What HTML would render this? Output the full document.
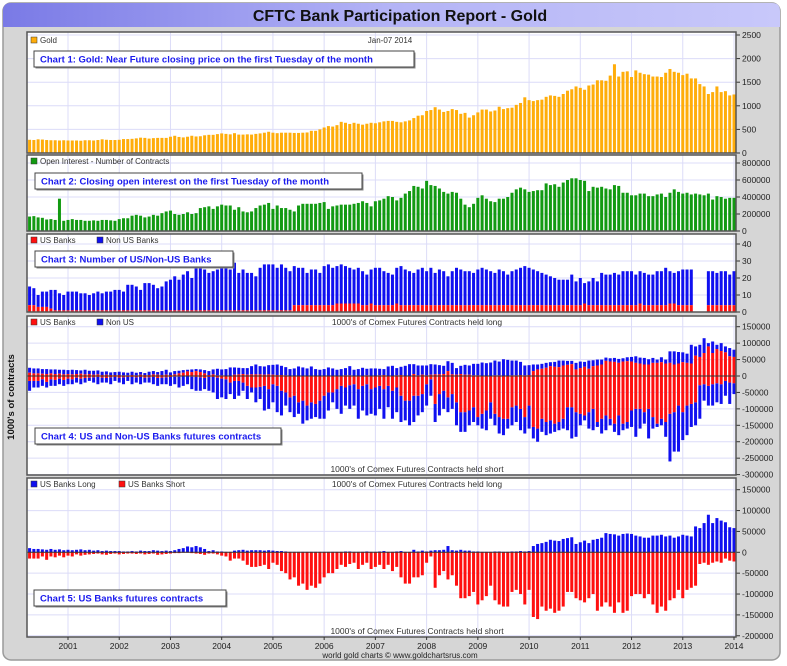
<!DOCTYPE html>
<html><head><meta charset="utf-8"><style>
html,body{margin:0;padding:0;background:#fff;width:787px;height:666px;overflow:hidden;font-family:"Liberation Sans",sans-serif}
</style></head><body>
<svg id="c" width="787" height="666" xmlns="http://www.w3.org/2000/svg" style="font-family:'Liberation Sans',sans-serif">
<defs>
<linearGradient id="tb" x1="0" x2="1" y1="0" y2="0"><stop offset="0" stop-color="#7a7ae6"/><stop offset="0.5" stop-color="#b4b4f6"/><stop offset="1" stop-color="#c8c8fa"/></linearGradient>
</defs>
<rect x="3" y="3" width="777" height="657" rx="8" fill="#d6d6d6" stroke="#9a9a9a" stroke-width="1.5"/>
<path d="M3,27 L3,11 Q3,3 11,3 L772,3 Q780,3 780,11 L780,27 Z" fill="url(#tb)"/>
<text x="400" y="21" text-anchor="middle" font-size="16" font-weight="bold" fill="#111">CFTC Bank Participation Report - Gold</text>
<text x="14" y="397" transform="rotate(-90 14 397)" text-anchor="middle" font-size="9.5" font-weight="bold" fill="#111">1000's of contracts</text>
<text x="400" y="658" text-anchor="middle" font-size="8" fill="#222">world gold charts © www.goldchartsrus.com</text>
<g id="g"></g>
</svg>
<script>
// ---- categories ----
const years=[2001,2002,2003,2004,2005,2006,2007,2008,2009,2010,2011,2012,2013,2014];
// monthly data from Apr 2000 to Jan 2014 (166 months)
const gold=[280,275,290,285,275,270,270,265,270,
265,265,265,260,270,270,265,275,290,280,275,275,
280,295,295,300,310,325,320,305,315,320,320,320,
345,365,340,330,345,365,350,355,375,385,385,400,
415,405,395,420,390,390,395,390,405,415,430,450,
430,420,430,430,430,425,425,430,435,470,470,500,
540,570,560,590,660,640,615,640,620,600,620,640,
630,650,670,680,680,660,650,670,690,740,790,800,
890,910,970,920,870,890,930,910,830,850,750,800,
860,920,920,880,900,980,930,950,960,1020,1060,1180,
1120,1100,1120,1130,1190,1220,1210,1190,1250,1320,1350,1410,
1380,1340,1430,1450,1540,1540,1530,1640,1880,1620,1720,1730,
1610,1750,1700,1670,1660,1620,1620,1610,1700,1780,1720,1700,
1650,1680,1580,1580,1460,1410,1250,1290,1410,1290,1310,1220,
1240];
const openInterest=[170,175,160,155,135,140,130,380,120,
130,140,130,130,120,120,125,120,130,130,125,120,
140,150,150,180,190,180,160,170,190,180,210,230,
240,200,190,200,220,200,210,270,280,290,260,290,
310,300,300,250,280,230,220,230,270,300,310,330,
260,300,270,270,250,230,300,320,320,320,320,330,
340,260,290,300,310,310,310,320,330,350,330,290,
350,360,380,410,400,360,390,440,470,530,520,500,
590,540,530,500,460,440,460,450,380,310,280,320,
390,420,380,350,340,380,380,400,450,490,510,490,
460,470,480,480,560,540,550,520,570,600,620,620,
600,590,470,520,510,520,500,490,540,530,450,450,
420,420,440,440,410,410,430,440,400,450,490,460,
440,450,430,440,430,420,440,370,410,400,380,390,
390];
const usBanks=[4,4,3,3,3,2,1,1,1,
1,1,1,1,1,1,1,1,1,1,1,1,
1,1,1,1,1,1,1,1,1,1,1,1,
1,1,1,1,1,1,1,1,1,1,1,1,
1,1,1,1,1,1,1,1,1,1,1,1,
1,1,1,1,1,4,4,4,4,4,4,4,
4,4,4,5,5,5,5,5,5,4,4,5,
4,4,4,4,4,5,4,4,4,4,4,4,
4,4,4,4,4,4,4,4,4,4,4,4,
4,4,4,4,4,4,4,4,4,4,4,4,
4,4,4,4,4,4,4,4,4,4,4,4,
4,5,4,4,4,4,4,4,4,4,4,4,
4,4,5,4,4,4,4,4,4,5,5,4,
4,4,4,null,null,null,4,4,4,4,4,4,
4];
const totalBanks=[15,14,10,12,12,13,13,11,10,
12,12,12,11,11,10,11,12,11,12,12,13,
13,12,16,16,15,13,17,17,16,14,15,18,
19,21,19,22,24,20,27,27,25,23,24,25,
27,27,25,29,23,25,23,23,21,26,28,28,
28,26,28,26,24,27,26,26,23,25,25,23,
27,28,26,27,28,27,26,25,26,24,22,25,
26,26,24,23,22,26,27,25,24,23,25,26,
24,26,23,25,24,21,24,26,25,24,24,23,
25,26,25,24,23,25,24,22,24,25,26,27,
26,25,24,23,22,21,20,19,19,19,22,18,
20,17,18,20,18,23,22,22,23,22,24,24,
24,22,24,23,22,22,24,24,26,24,23,24,
25,25,25,null,null,null,24,24,23,24,24,22,
24];
// thousands of contracts
const usLong=[10,8,8,7,6,8,6,7,5,
6,5,6,7,5,6,4,5,3,4,3,3,
3,2,2,3,2,4,3,3,5,4,3,4,
3,5,8,10,14,12,15,12,8,3,5,2,
2,1,1,4,5,6,4,5,5,5,4,5,
4,3,3,2,1,1,1,1,1,1,1,1,
1,1,1,1,1,2,2,1,1,1,2,1,
1,2,3,1,1,2,3,1,1,6,2,4,
2,4,5,5,6,15,5,4,6,4,4,2,
2,1,1,1,2,2,1,1,2,2,3,2,
3,15,20,22,25,30,28,27,32,34,36,20,
24,28,22,30,32,35,46,44,43,40,44,45,
44,40,38,35,35,40,40,42,38,40,35,38,
42,40,38,62,58,70,90,70,82,76,72,60,
58];
const usShort=[-15,-15,-15,-10,-18,-10,-12,-8,-12,
-8,-10,-5,-8,-6,-5,-4,-3,-5,-6,-4,-3,
-5,-4,-3,-3,-4,-3,-5,-4,-3,-6,-5,-4,
-3,-2,-2,-1,-1,-2,-3,-4,-6,-3,-3,-5,
-8,-10,-20,-15,-15,-20,-30,-35,-35,-33,-30,-40,
-25,-30,-45,-50,-65,-60,-80,-75,-90,-80,-85,-75,
-60,-50,-50,-40,-30,-35,-28,-25,-40,-30,-25,-40,
-35,-30,-40,-30,-45,-35,-60,-75,-75,-60,-60,-55,
-25,-10,-85,-55,-45,-65,-55,-80,-110,-110,-105,-95,
-125,-115,-105,-80,-115,-125,-130,-130,-95,-90,-100,-125,
-90,-155,-160,-130,-140,-135,-145,-140,-130,-95,-95,-110,
-115,-120,-110,-100,-140,-130,-120,-130,-145,-120,-145,-140,
-105,-100,-100,-110,-100,-125,-145,-130,-140,-115,-110,-90,
-110,-90,-85,-80,-28,-25,-30,-25,-22,-25,-15,-20,
-22];
const allBanksLong=[25,23,23,21,21,20,20,19,19,
18,19,18,17,19,16,16,17,13,14,11,12,
13,11,10,13,10,12,9,13,15,12,15,19,
11,15,16,18,19,20,21,20,18,15,20,22,
20,21,26,26,25,24,24,30,35,30,29,33,
34,35,31,27,21,23,29,26,23,29,21,19,
21,26,23,19,21,24,30,19,21,25,22,23,
23,22,21,29,31,24,28,31,36,36,32,32,
32,36,35,33,31,45,40,24,31,34,32,37,
37,41,39,41,47,44,51,49,47,47,43,32,
33,35,35,37,40,42,43,47,47,46,46,40,
44,43,47,48,50,50,56,54,55,52,54,57,
58,60,56,55,51,55,50,57,50,75,75,73,
72,68,95,90,95,115,100,105,95,100,90,85,
80];
const allBanksShort=[-45,-35,-35,-30,-35,-30,-30,-25,-30,
-25,-25,-20,-25,-20,-15,-20,-25,-20,-20,-25,-15,
-20,-25,-15,-25,-20,-25,-20,-20,-25,-30,-25,-25,
-30,-25,-35,-30,-25,-40,-45,-45,-40,-45,-50,-70,
-65,-70,-55,-70,-60,-45,-70,-50,-80,-70,-105,-100,
-80,-110,-120,-90,-110,-125,-115,-145,-135,-130,-125,-130,
-130,-105,-80,-100,-115,-90,-100,-90,-130,-105,-120,-115,
-120,-100,-130,-95,-130,-110,-140,-135,-150,-140,-120,-110,
-90,-60,-140,-120,-100,-110,-100,-150,-170,-170,-150,-140,
-150,-160,-165,-130,-150,-175,-180,-160,-150,-140,-165,-175,
-160,-190,-200,-170,-180,-175,-170,-165,-160,-165,-190,-185,
-150,-135,-160,-165,-155,-175,-165,-150,-170,-180,-165,-160,
-155,-185,-160,-145,-190,-160,-155,-150,-185,-260,-230,-230,
-195,-180,-155,-150,-130,-75,-90,-90,-80,-85,-60,-85,
-55];
// ---- tick labels ----
const ticks1=[0,500,1000,1500,2000,2500];
const ticks2=[0,200000,400000,600000,800000];
const ticks3=[0,10,20,30,40];
const ticks4=[150000,100000,50000,0,-50000,-100000,-150000,-200000,-250000,-300000];
const ticks5=[150000,100000,50000,0,-50000,-100000,-150000,-200000];

const NS='http://www.w3.org/2000/svg';
const g=document.getElementById('g');
const PL=27,PR=736;
function el(t,a,p){const e=document.createElementNS(NS,t);for(const k in a)e.setAttribute(k,a[k]);(p||g).appendChild(e);return e;}
function xm(i){return 68+(i-9)*51.23/12;}
function xy(y){return 68+(y-2001)*51.23;}
const panels=[
 {top:32,bot:153,min:0,max:2500*153/118*0+2500,t:ticks1,y0:153,yTop:35,vTop:2500},
];
function scale(vA,yA,vB,yB){return v=>yA+(v-vA)*(yB-yA)/(vB-vA);}
function panel(name,top,bot,ys,ticks){
  const gp=el('g',{});
  
  
  el('rect',{x:PL,y:top,width:PR-PL,height:bot-top,fill:'#fff'},gp);
  ticks.forEach(t=>{const y=ys(t);
    const l=el('line',{x1:PL,x2:PR,y1:y,y2:y,stroke:'#dcdcf8','stroke-width':1},gp);
    
    el('line',{x1:PR,x2:PR+4,y1:y,y2:y,stroke:'#333','stroke-width':1},gp);
    const tx=el('text',{x:PR+6,y:y+3,'font-size':8.5,fill:'#222'},gp);
    
    tx.textContent=t;});
  years.forEach(yr=>{const x=xy(yr);
    const l=el('line',{x1:x,x2:x,y1:top,y2:bot,stroke:'#dcdcf8','stroke-width':1},gp);
    });
  return gp;
}
function bar(gp,i,v0,v1,ys,col,name){
  if(v1==null||v0==null)return;
  const a=ys(v0),b=ys(v1);
  const r=el('rect',{x:xm(i)-1.5,y:Math.min(a,b),width:3,height:Math.abs(a-b),fill:col},gp);
  
  
}
function frame(gp,top,bot){el('rect',{x:PL,y:top,width:PR-PL,height:bot-top,fill:'none',stroke:'#555','stroke-width':1.5},gp);}
function legend(gp,x,y,col,txt){
  el('rect',{x:x,y:y-6,width:6,height:6,fill:col,stroke:'#333','stroke-width':0.5},gp);
  const t=el('text',{x:x+9,y:y,'font-size':8,fill:'#333'},gp);
  
  t.textContent=txt;
}
function box(gp,x,y,w,txt,name){
  const b=el('g',{},gp);
  
  el('rect',{x:x+1.5,y:y+1.5,width:w,height:16,fill:'#888'},b);
  el('rect',{x:x,y:y,width:w,height:16,fill:'#fff',stroke:'#444','stroke-width':1},b);
  const t=el('text',{x:x+6,y:y+11.5,'font-size':9.5,'font-weight':'bold',fill:'#1a1aee'},b);
  t.textContent=txt;
}
function note(gp,y,txt){const t=el('text',{x:417,y:y,'text-anchor':'middle','font-size':8.5,fill:'#333'},gp);
  t.textContent=txt;}

// Panel 1
let s1=scale(0,153,2500,35);
let p1=panel('gold-price-panel',32,153,s1,ticks1);
gold.forEach((v,i)=>bar(p1,i,0,v,s1,'#ffad0a','bar-gold'));
frame(p1,32,153);legend(p1,31,43,'#ffad0a','Gold');
let dt=el('text',{x:390,y:43,'text-anchor':'middle','font-size':8,fill:'#333'},p1);dt.textContent='Jan-07 2014';

box(p1,34,51,380,'Chart 1: Gold: Near Future closing price on the first Tuesday of the month','chart1-label');

// Panel 2
let s2=scale(0,231,800000,163);
let p2=panel('open-interest-panel',155,231,s2,ticks2);
openInterest.forEach((v,i)=>bar(p2,i,0,v*1000,s2,'#129a12','bar-open-interest'));
frame(p2,155,231);legend(p2,31,164,'#129a12','Open Interest - Number of Contracts');
box(p2,35,173,327,'Chart 2: Closing open interest on the first Tuesday of the month','chart2-label');

// Panel 3
let s3=scale(0,312,40,244);
let p3=panel('bank-count-panel',234,312,s3,ticks3);
totalBanks.forEach((v,i)=>{bar(p3,i,usBanks[i],v,s3,'#1010f0','bar-non-us-banks');bar(p3,i,0,usBanks[i],s3,'#ff1010','bar-us-banks');});
frame(p3,234,312);legend(p3,31,243,'#ff1010','US Banks');legend(p3,97,243,'#1010f0','Non US Banks');
box(p3,35,251,198,'Chart 3: Number of US/Non-US Banks','chart3-label');

// Panel 4
let s4=scale(0,376,150000,326.7);
let p4=panel('us-non-us-futures-panel',316,475,s4,ticks4);
usLong.forEach((v,i)=>{
  bar(p4,i,v*1000,Math.max(allBanksLong[i],v)*1000,s4,'#1010f0','bar-non-us-long');
  bar(p4,i,usShort[i]*1000,Math.min(allBanksShort[i],usShort[i])*1000,s4,'#1010f0','bar-non-us-short');
  bar(p4,i,usShort[i]*1000,v*1000,s4,'#ff1010','bar-us-net-range');
});
el('line',{x1:PL,x2:PR,y1:s4(0),y2:s4(0),stroke:'#333','stroke-width':1},p4);
frame(p4,316,475);legend(p4,31,325,'#ff1010','US Banks');legend(p4,97,325,'#1010f0','Non US');
note(p4,325,"1000's of Comex Futures Contracts held long");note(p4,472,"1000's of Comex Futures Contracts held short");
box(p4,35,428,246,'Chart 4: US and Non-US Banks futures contracts','chart4-label');

// Panel 5
let s5=scale(0,552.3,150000,489.7);
let p5=panel('us-banks-futures-panel',478,637,s5,ticks5);
usLong.forEach((v,i)=>{bar(p5,i,0,v*1000,s5,'#1010f0','bar-us-long');bar(p5,i,0,usShort[i]*1000,s5,'#ff1010','bar-us-short');});
el('line',{x1:PL,x2:PR,y1:s5(0),y2:s5(0),stroke:'#333','stroke-width':1},p5);
frame(p5,478,637);legend(p5,31,487,'#1010f0','US Banks Long');legend(p5,119,487,'#ff1010','US Banks Short');
note(p5,487,"1000's of Comex Futures Contracts held long");note(p5,634,"1000's of Comex Futures Contracts held short");
box(p5,34,590,192,'Chart 5: US Banks futures contracts','chart5-label');

// x-axis labels
years.forEach(yr=>{const t=el('text',{x:xy(yr),y:649,'text-anchor':'middle','font-size':8.5,fill:'#222'});
  t.textContent=yr;
  el('line',{x1:xy(yr),x2:xy(yr),y1:637,y2:640,stroke:'#333'});});
</script>
</body></html>
